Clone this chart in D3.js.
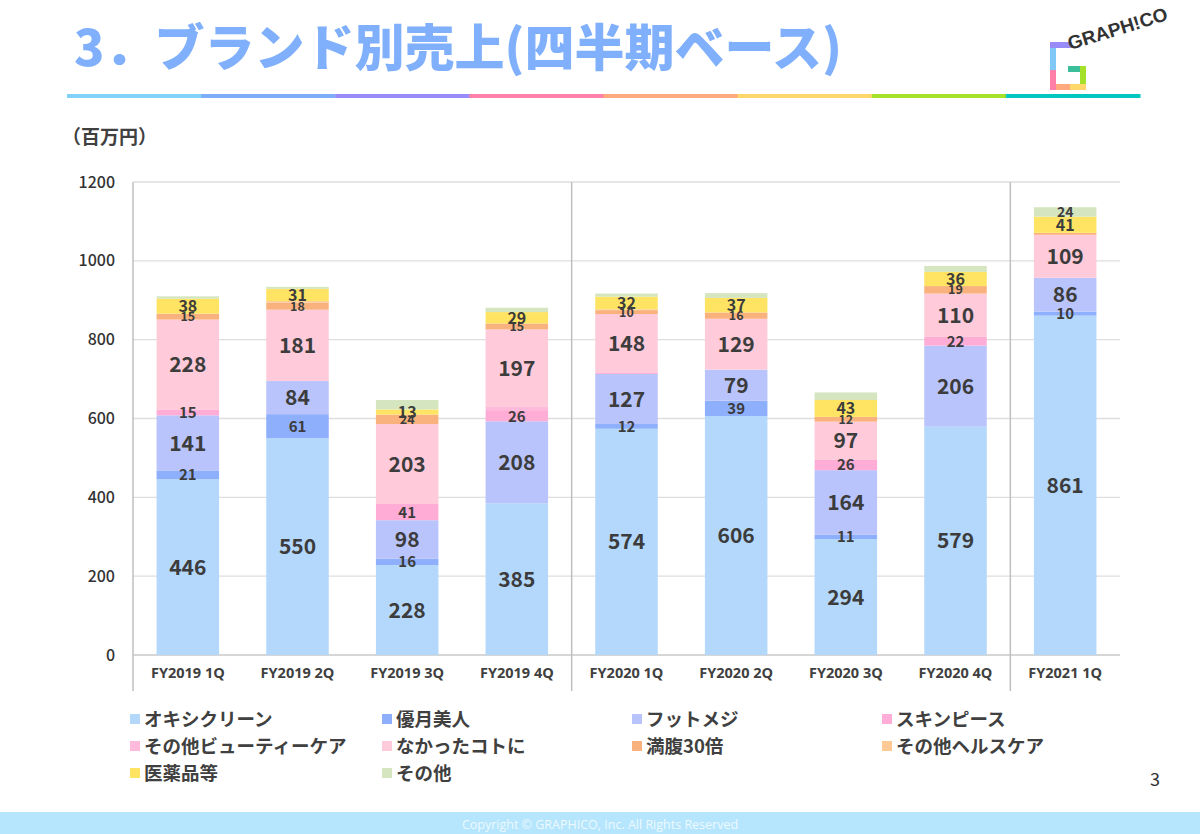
<!DOCTYPE html>
<html>
<head>
<meta charset="utf-8">
<script src="https://cdn.jsdelivr.net/npm/d3@7"></script>
<style>
  body { margin: 0; background: #fff; }
  svg { display: block; font-family: "Noto Sans CJK JP", "Noto Sans", sans-serif; }
</style>
</head>
<body>
<div class="container"></div>
<script>
// DATA
const quarters = ["FY2019 1Q", "FY2019 2Q", "FY2019 3Q", "FY2019 4Q", "FY2020 1Q",
                  "FY2020 2Q", "FY2020 3Q", "FY2020 4Q", "FY2021 1Q"];

const brands = ["オキシクリーン", "優月美人", "フットメジ", "スキンピース",
                "その他ビューティーケア", "なかったコトに", "満腹30倍",
                "その他ヘルスケア", "医薬品等", "その他"];

const brandColors = ["#b3d8fc", "#8eaffb", "#b9c4fc", "#ffadd6",
                     "#ffb9da", "#ffcad9", "#f9b27e",
                     "#ffc996", "#ffe464", "#d5e5bf"];

// one array per brand, values per quarter (百万円)
const oxiClean    = [446, 550, 228, 385, 574, 606, 294, 579, 861];
const yugetsu     = [21, 61, 16, 0, 12, 39, 11, 0, 10];
const footMeji    = [141, 84, 98, 208, 127, 79, 164, 206, 86];
const skinPeace   = [15, 0, 41, 26, 4, 0, 26, 22, 0];
const otherBeauty = [0, 0, 0, 10, 0, 0, 0, 0, 0];
const nakatta     = [228, 181, 203, 197, 148, 129, 97, 110, 109];
const manpuku     = [15, 18, 24, 15, 10, 16, 12, 19, 5];
const otherHealth = [0, 4, 0, 0, 2, 0, 0, 0, 0];
const medicine    = [38, 31, 13, 29, 32, 37, 43, 36, 41];
const others      = [6, 5, 24, 11, 8, 12, 19, 15, 24];

const seriesValues = [oxiClean, yugetsu, footMeji, skinPeace, otherBeauty,
                      nakatta, manpuku, otherHealth, medicine, others];

// which segments carry a value label
const showLabel = [
  [1,1,1,1,1,1,1,1,1],
  [1,1,1,0,1,1,1,0,1],
  [1,1,1,1,1,1,1,1,1],
  [1,0,1,1,0,0,1,1,0],
  [0,0,0,0,0,0,0,0,0],
  [1,1,1,1,1,1,1,1,1],
  [1,1,1,1,1,1,1,1,0],
  [0,0,0,0,0,0,0,0,0],
  [1,1,1,1,1,1,1,1,1],
  [0,0,0,0,0,0,0,0,1]
];
const labelSize = [21, 15, 21, 15, 15, 21, 12.5, 12, 16, 14];

const yTicks = [0, 200, 400, 600, 800, 1000, 1200];
const separators = [4, 8]; // vertical lines before these quarters

const titleText = "3．ブランド別売上(四半期ベース)";
const unitText = "（百万円）";
const pageNumber = "3";
const footerText = "Copyright © GRAPHICO, Inc. All Rights Reserved";
const stripeColors = ["#7fd3fb", "#7eaefb", "#9a8cf8", "#ff80a8", "#ffaa7e", "#ffd86c", "#a6e12a", "#00c7bf"];

// SETUP
const width = 1200;
const height = 834;
const plot = { left: 133, right: 1120, top: 182, bottom: 655 };

const svg = d3.select(".container")
    .append("svg")
    .attr("width", width)
    .attr("height", height);

// TITLE
svg.append("text")
    .attr("x", 74)
    .attr("y", 66)
    .attr("fill", "#80b0fc")
    .attr("font-size", 50)
    .attr("font-weight", 900)
    .text(titleText);

// colored stripe under the title
const stripeX = d3.scaleBand().domain(d3.range(stripeColors.length)).range([67, 1140]);
svg.selectAll("rect.stripe")
    .data(stripeColors)
    .enter()
    .append("rect")
    .attr("class", "stripe")
    .attr("x", (d, i) => stripeX(i))
    .attr("y", 94)
    .attr("width", stripeX.bandwidth() + 0.5)
    .attr("height", 4)
    .attr("fill", d => d);

// logo (rough)
const logo = svg.append("g").attr("transform", "translate(1050,42)");
const logoParts = [
  { x: 0, y: 6, w: 6, h: 42, c: "#7fc8f8" },
  { x: 0, y: 28, w: 6, h: 20, c: "#ff7fa8" },
  { x: 6, y: 42, w: 14, h: 6, c: "#ffaa7e" },
  { x: 20, y: 42, w: 16, h: 6, c: "#ffd86c" },
  { x: 30, y: 24, w: 6, h: 18, c: "#a6e12a" },
  { x: 18, y: 24, w: 12, h: 6, c: "#3bbf9a" },
  { x: 0, y: 0, w: 22, h: 6, c: "#9a8cf8" }
];
logo.selectAll("rect")
    .data(logoParts)
    .enter()
    .append("rect")
    .attr("x", d => d.x).attr("y", d => d.y)
    .attr("width", d => d.w).attr("height", d => d.h)
    .attr("fill", d => d.c);
svg.append("text")
    .attr("transform", "translate(1070,50) rotate(-17)")
    .attr("font-family", "Liberation Sans, sans-serif")
    .attr("font-weight", 700)
    .attr("font-size", 19)
    .attr("fill", "#333")
    .text("GRAPH!CO");

// unit
svg.append("text")
    .attr("x", 62)
    .attr("y", 144)
    .attr("fill", "#404040")
    .attr("font-size", 19)
    .attr("font-weight", 700)
    .text(unitText);

// SCALES
const xScale = d3.scaleBand()
    .domain(quarters)
    .range([plot.left, plot.right])
    .paddingInner(0.43)
    .paddingOuter(0.215);

const yScale = d3.scaleLinear()
    .domain([0, 1200])
    .range([plot.bottom, plot.top]);

// gridlines
svg.append("g")
    .selectAll("line")
    .data(yTicks)
    .enter()
    .append("line")
    .attr("x1", plot.left)
    .attr("x2", plot.right)
    .attr("y1", d => yScale(d))
    .attr("y2", d => yScale(d))
    .attr("stroke", d => d === 0 ? "#c8c8c8" : "#dedede")
    .attr("stroke-width", 1.3);

// y axis
const yAxis = svg.append("g")
    .attr("transform", `translate(${plot.left},0)`)
    .call(d3.axisLeft(yScale).tickValues(yTicks).tickFormat(d3.format("d")).tickSize(0).tickPadding(18));
yAxis.select(".domain").remove();
yAxis.selectAll("text")
    .attr("font-size", 16)
    .attr("font-weight", 500)
    .attr("fill", "#333")
    .attr("font-family", "Noto Sans CJK JP, sans-serif");

// left line and separators
const step = xScale.step();
const sepX = [0].concat(separators).map(i => plot.left + i * step);
svg.append("g")
    .selectAll("line")
    .data(sepX)
    .enter()
    .append("line")
    .attr("x1", d => d).attr("x2", d => d)
    .attr("y1", plot.top)
    .attr("y2", 691)
    .attr("stroke", "#bfbfbf")
    .attr("stroke-width", 1.5);

// x axis labels
const xAxis = svg.append("g")
    .attr("transform", `translate(0,${plot.bottom})`)
    .call(d3.axisBottom(xScale).tickSize(0).tickPadding(13));
xAxis.select(".domain").remove();
xAxis.selectAll("text")
    .attr("font-size", 14.5)
    .attr("font-weight", 700)
    .attr("fill", "#404040")
    .attr("font-family", "Open Sans, sans-serif");

// STACK
const table = quarters.map((q, qi) => {
  const row = { quarter: q };
  brands.forEach((b, bi) => { row[b] = seriesValues[bi][qi]; });
  return row;
});
const stacked = d3.stack().keys(brands)(table);

const layers = svg.append("g")
    .selectAll("g")
    .data(stacked)
    .enter()
    .append("g")
    .attr("fill", (d, i) => brandColors[i]);

layers.selectAll("rect")
    .data(d => d)
    .enter()
    .append("rect")
    .attr("x", d => xScale(d.data.quarter))
    .attr("width", xScale.bandwidth())
    .attr("y", d => yScale(d[1]))
    .attr("height", d => yScale(d[0]) - yScale(d[1]));

// value labels
stacked.forEach((layer, si) => {
  svg.append("g")
    .selectAll("text")
    .data(layer.filter((d, qi) => showLabel[si][qi] && (d[1] - d[0]) > 0))
    .enter()
    .append("text")
    .attr("x", d => xScale(d.data.quarter) + xScale.bandwidth() / 2)
    .attr("y", d => yScale((d[0] + d[1]) / 2))
    .attr("dy", "0.36em")
    .attr("text-anchor", "middle")
    .attr("font-size", labelSize[si])
    .attr("font-weight", 700)
    .attr("fill", "#3c3c3c")
    .text(d => d[1] - d[0]);
});

// LEGEND
const legendCols = [130, 382, 632, 882];
const legendRows = [719, 746, 773];
const legend = svg.append("g")
    .selectAll("g")
    .data(brands)
    .enter()
    .append("g")
    .attr("transform", (d, i) => `translate(${legendCols[i % 4]},${legendRows[Math.floor(i / 4)]})`);
legend.append("rect")
    .attr("x", 0).attr("y", -5)
    .attr("width", 10).attr("height", 10)
    .attr("fill", (d, i) => brandColors[i]);
legend.append("text")
    .attr("x", 14)
    .attr("dy", "0.36em")
    .attr("font-size", 18.5)
    .attr("font-weight", 700)
    .attr("fill", "#404040")
    .text(d => d);

// page number
svg.append("text")
    .attr("x", 1160)
    .attr("y", 786)
    .attr("text-anchor", "end")
    .attr("font-size", 18)
    .attr("fill", "#333")
    .text(pageNumber);

// FOOTER
svg.append("rect")
    .attr("x", 0).attr("y", 812)
    .attr("width", width).attr("height", 22)
    .attr("fill", "#b5e6fd");
svg.append("text")
    .attr("x", 600)
    .attr("y", 829)
    .attr("text-anchor", "middle")
    .attr("font-size", 12.5)
    .attr("font-family", "Open Sans, sans-serif")
    .attr("fill", "#eef9ff")
    .text(footerText);
</script>
</body>
</html>
